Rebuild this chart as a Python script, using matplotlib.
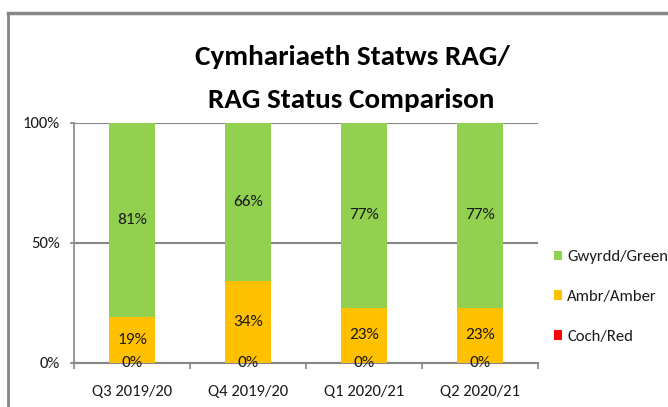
import numpy as np
import matplotlib
matplotlib.use("Agg")
import matplotlib.pyplot as plt
from matplotlib import font_manager

# pick a Calibri-like font if one exists, else Lato
names = set(f.name for f in font_manager.fontManager.ttflist)
font = "Lato"
for cand in ["Carlito", "Liberation Sans Narrow", "Arial Narrow"]:
    if cand in names:
        font = cand
        break
plt.rcParams["font.family"] = [font, "DejaVu Sans"]

# Data
quarters = ["Q3 2019/20", "Q4 2019/20", "Q1 2020/21", "Q2 2020/21"]
red = [0, 0, 0, 0]
amber = [19, 34, 23, 23]
green = [81, 66, 77, 77]
series_names = ["Gwyrdd/Green", "Ambr/Amber", "Coch/Red"]
title_lines = ["Cymhariaeth Statws RAG/", "RAG Status Comparison"]

c_green = "#92d050"
c_amber = "#ffc000"
c_red = "#ff0000"
c_grid = "#868686"
c_text = "#1a1a1a"

fs = 12
W, H = 668, 407
fig = plt.figure(figsize=(W / 100, H / 100), dpi=100)

# chart area border (only top and left are in view)
fig.add_artist(plt.Line2D([8 / W, 8 / W], [0, 1 - 13 / H], transform=fig.transFigure,
                          color=c_grid, lw=2))
fig.add_artist(plt.Line2D([8 / W, 1], [1 - 13 / H, 1 - 13 / H], transform=fig.transFigure,
                          color=c_grid, lw=2.5))

ax = fig.add_axes([74 / W, (H - 363) / H, 464 / W, 240 / H])

x = np.arange(len(quarters))
red = np.array(red)
amber = np.array(amber)
green = np.array(green)

bw = 0.4
b_red = ax.bar(x, red, bw, color=c_red, zorder=3)
b_amb = ax.bar(x, amber, bw, bottom=red, color=c_amber, zorder=3)
b_grn = ax.bar(x, green, bw, bottom=red + amber, color=c_green, zorder=3)

for i in range(len(x)):
    ax.text(x[i], red[i] / 2, f"{red[i]}%", ha="center", va="center", fontsize=12.5,
            color=c_text, zorder=5)
    ax.text(x[i], red[i] + amber[i] / 2, f"{amber[i]}%", ha="center", va="center",
            fontsize=12.5, color=c_text, zorder=5)
    ax.text(x[i], red[i] + amber[i] + green[i] / 2, f"{green[i]}%", ha="center",
            va="center", fontsize=12.5, color=c_text, zorder=5)

ax.set_xlim(-0.5, len(x) - 0.5)
ax.set_ylim(0, 100)
ax.set_yticks([0, 50, 100])
ax.set_yticklabels(["0%", "50%", "100%"])
ax.set_xticks(x)
ax.set_xticklabels(quarters)
ax.set_xticks(np.arange(len(x) + 1) - 0.5, minor=True)
ax.tick_params(axis="x", which="major", length=0, pad=16, labelsize=fs, labelcolor=c_text)
ax.tick_params(axis="x", which="minor", length=4, color=c_grid, width=1.2)
ax.tick_params(axis="y", length=3, color=c_grid, width=1.2, pad=7, labelsize=fs,
               labelcolor=c_text)
ax.yaxis.grid(True, color=c_grid, lw=1.5, zorder=0)
for s in ["top", "right"]:
    ax.spines[s].set_visible(False)
ax.spines["left"].set_color(c_grid)
ax.spines["bottom"].set_color(c_grid)
ax.spines["bottom"].set_linewidth(1.5)
ax.spines["left"].set_linewidth(1.2)

# title
fig.text(352 / W, 1 - 57 / H, title_lines[0], ha="center", va="center",
         fontsize=21, fontweight="bold")
fig.text(351 / W, 1 - 100 / H, title_lines[1], ha="center", va="center",
         fontsize=21, fontweight="bold")

# legend
fig.legend([b_grn, b_amb, b_red], series_names, loc="center left",
           bbox_to_anchor=(554 / W, 1 - 297 / H), frameon=False, fontsize=fs,
           handlelength=0.5, handleheight=0.5, handletextpad=0.3,
           labelspacing=1.55, borderpad=0, borderaxespad=0, labelcolor=c_text)

fig.savefig("out.png", dpi=100)
